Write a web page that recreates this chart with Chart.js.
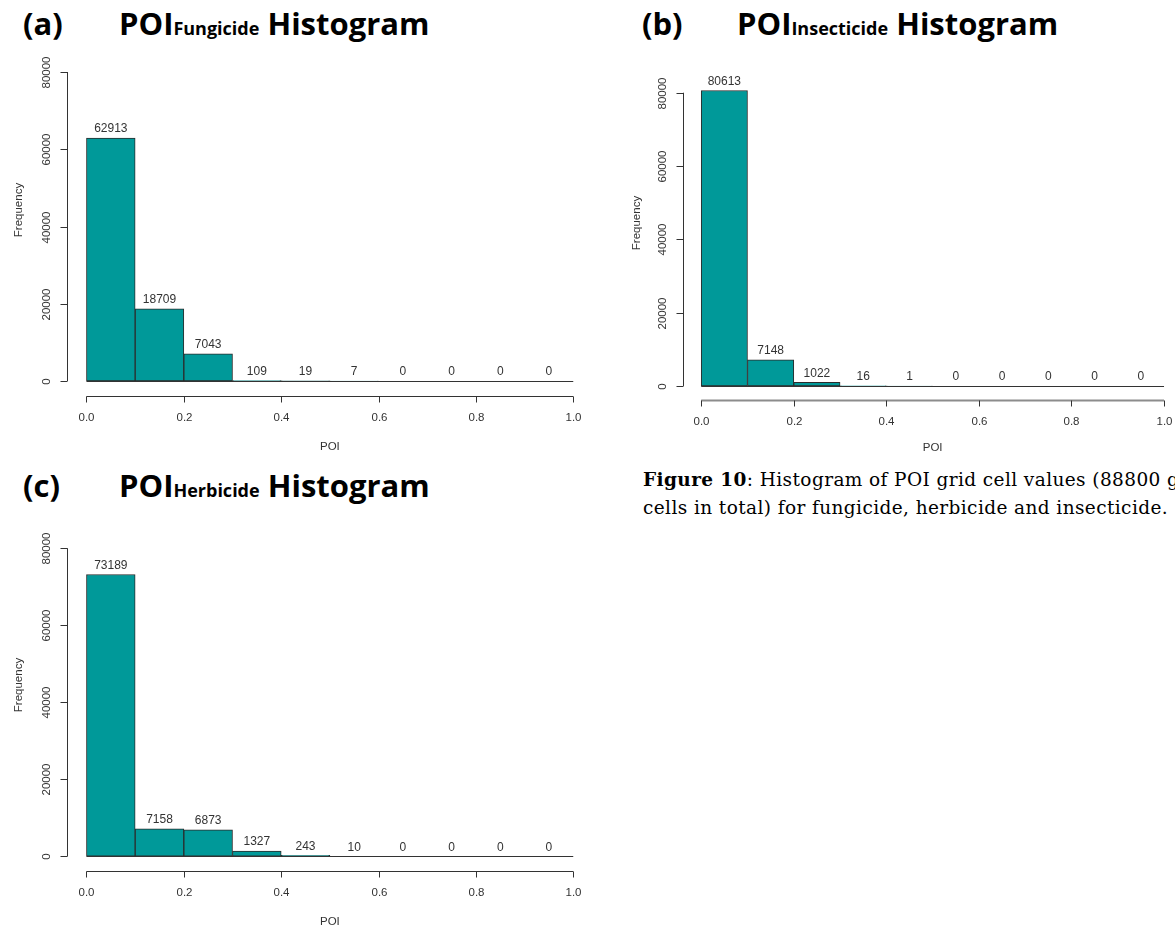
<!DOCTYPE html>
<html lang="en">
<head>
<meta charset="UTF-8">
<title>POI Histograms</title>
<script src="https://cdn.jsdelivr.net/npm/chart.js"></script>
<style>
  body { margin: 0; width: 1175px; height: 927px; overflow: hidden; background: #fff; position: relative; }
  canvas { position: absolute; }
  .tag, .ttl { position: absolute; font-family: "Open Sans", sans-serif; font-weight: 700; font-size: 31px; line-height: 31px; white-space: nowrap; color: #000; }
  .ttl .sub { font-size: 18px; }
  .caption { position: absolute; left: 643px; top: 466px; font-family: "DejaVu Serif", serif; font-size: 18.5px; letter-spacing: 0.4px; line-height: 28px; white-space: nowrap; color: #000; }
</style>
</head>
<body>
<div class="tag" style="left:23px; top:7.5px;">(a)</div>
<div class="ttl" style="left:119px; top:7.5px;">POI<span class="sub">Fungicide</span> Histogram</div>
<div class="tag" style="left:642px; top:7.5px;">(b)</div>
<div class="ttl" style="left:737px; top:7.5px;">POI<span class="sub">Insecticide</span> Histogram</div>
<div class="tag" style="left:23px; top:470px;">(c)</div>
<div class="ttl" style="left:119px; top:470px;">POI<span class="sub">Herbicide</span> Histogram</div>
<div class="caption"><b>Figure 10</b>: Histogram of POI grid cell values (88800 grid<br>cells in total) for fungicide, herbicide and insecticide.</div>

<canvas id="chartA" width="600" height="460" style="left:0; top:0;"></canvas>
<canvas id="chartB" width="575" height="460" style="left:600px; top:0;"></canvas>
<canvas id="chartC" width="600" height="467" style="left:0; top:460px;"></canvas>

<script>
// histogram bins (midpoints of 0.1 wide classes)
const binMids = [0.05, 0.15, 0.25, 0.35, 0.45, 0.55, 0.65, 0.75, 0.85, 0.95];
const fungicide = [62913, 18709, 7043, 109, 19, 7, 0, 0, 0, 0];
const insecticide = [80613, 7148, 1022, 16, 1, 0, 0, 0, 0, 0];
const herbicide = [73189, 7158, 6873, 1327, 243, 10, 0, 0, 0, 0];
const xTicks = [0, 0.2, 0.4, 0.6, 0.8, 1.0];
const yTicks = [0, 20000, 40000, 60000, 80000];

const INK = '#333';

function txt(ctx, s, x, y, rotate) {
    ctx.save();
    ctx.translate(x, y);
    if (rotate) ctx.rotate(-Math.PI / 2);
    ctx.fillText(s, 0, 0);
    ctx.restore();
}

function seg(ctx, x1, y1, x2, y2) {
    ctx.beginPath();
    ctx.moveTo(x1, y1);
    ctx.lineTo(x2, y2);
    ctx.stroke();
}

// R style axes: detached lines that only span the tick range
const rAxes = {
    id: 'rAxes',
    afterDatasetsDraw(chart, args, o) {
        const ctx = chart.ctx, xs = chart.scales.x, ys = chart.scales.y;
        const bottom = Math.round(chart.chartArea.bottom) + 0.5;
        const left = Math.round(chart.chartArea.left) + 0.5;
        const y0 = Math.round(ys.getPixelForValue(0)) + 0.5;
        ctx.save();
        ctx.strokeStyle = INK;
        ctx.lineWidth = 1;
        // baseline of the (empty) bars
        seg(ctx, xs.getPixelForValue(0), y0, xs.getPixelForValue(1), y0);

        // x axis
        ctx.strokeStyle = o.xAxisColor || INK;
        ctx.lineWidth = o.xAxisWidth || 1;
        seg(ctx, xs.getPixelForValue(xTicks[0]), bottom, xs.getPixelForValue(xTicks[xTicks.length - 1]), bottom);
        ctx.strokeStyle = INK;
        ctx.lineWidth = 1;
        // y axis
        seg(ctx, left, ys.getPixelForValue(yTicks[0]), left, ys.getPixelForValue(yTicks[yTicks.length - 1]));

        ctx.fillStyle = INK;
        ctx.textAlign = 'center';
        ctx.textBaseline = 'middle';
        ctx.font = '11.5px "Liberation Sans", Arial, sans-serif';
        xTicks.forEach(v => {
            const px = Math.round(xs.getPixelForValue(v)) + 0.5;
            seg(ctx, px, bottom, px, bottom + 6);
            txt(ctx, v.toFixed(1), px, bottom + 21);
        });
        yTicks.forEach(v => {
            const py = Math.round(ys.getPixelForValue(v)) + 0.5;
            seg(ctx, left, py, left - 7, py);
            txt(ctx, String(v), left - 21, py, true);
        });
        txt(ctx, 'POI', xs.getPixelForValue(0.5), bottom + o.xTitleOff);
        txt(ctx, 'Frequency', o.yTitleX, o.yTitleY, true);

        // counts above bars
        ctx.font = '12px "Liberation Sans", Arial, sans-serif';
        const meta = chart.getDatasetMeta(0);
        const counts = chart.data.datasets[0].data;
        meta.data.forEach((bar, i) => {
            txt(ctx, String(counts[i].y), bar.x, bar.y - 9);
        });
        ctx.restore();
    }
};

function makeChart(id, counts, g) {
    return new Chart(document.getElementById(id), {
        type: 'bar',
        data: {
            datasets: [{
                data: binMids.map((x, i) => ({ x: x, y: counts[i] })),
                backgroundColor: '#009999',
                borderColor: '#2b2b2b',
                borderWidth: 1,
                borderSkipped: false,
                barPercentage: 1,
                categoryPercentage: 1
            }]
        },
        options: {
            responsive: false,
            animation: false,
            devicePixelRatio: 1,
            layout: { padding: g.pad },
            plugins: {
                legend: { display: false },
                tooltip: { enabled: false },
                rAxes: g
            },
            scales: {
                x: { type: 'linear', display: false, offset: false, min: -0.04, max: 1.02 },
                y: { type: 'linear', display: false, min: -3800, max: 88000 }
            }
        },
        plugins: [rAxes]
    });
}

makeChart('chartA', fungicide, {
    pad: { left: 67, right: 17, top: 41.1, bottom: 64.3 },
    xTitleOff: 50, yTitleX: 18.4, yTitleY: 210
});
makeChart('chartB', insecticide, {
    pad: { left: 82.7, right: 1.7, top: 63.4, bottom: 60.1 },
    xTitleOff: 47.7, yTitleX: 36.7, yTitleY: 223,
    xAxisColor: '#8c8c8c', xAxisWidth: 2
});
makeChart('chartC', herbicide, {
    pad: { left: 67, right: 17, top: 57.5, bottom: 56.1 },
    xTitleOff: 50, yTitleX: 18.4, yTitleY: 225
});
</script>
</body>
</html>
